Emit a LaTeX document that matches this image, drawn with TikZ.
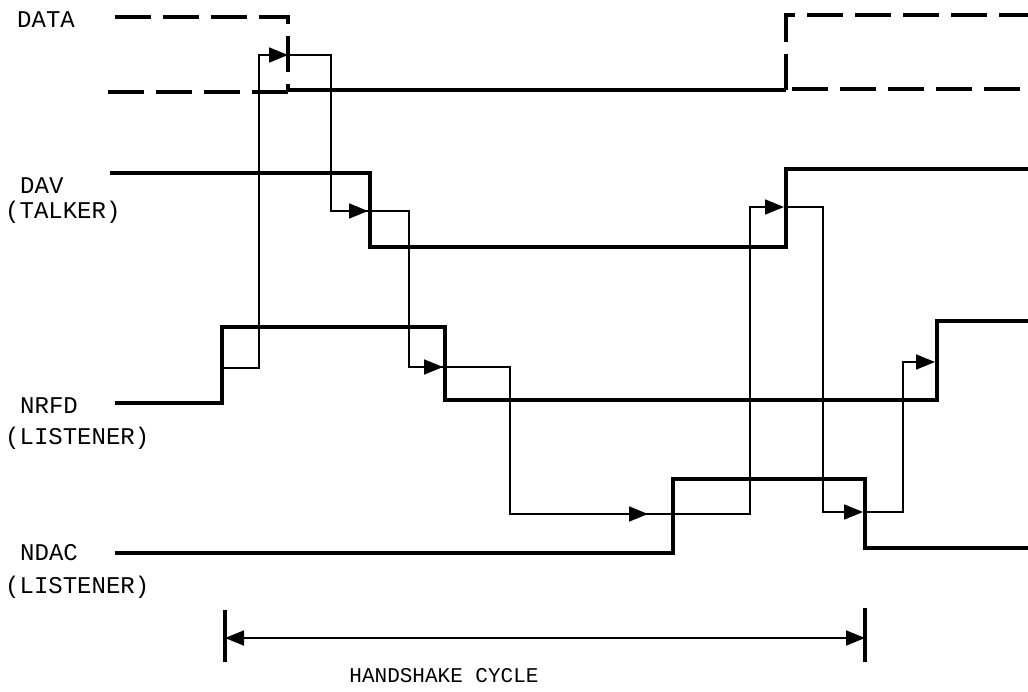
\documentclass[tikz,border=0pt]{standalone}
\usepackage{fontspec}
\setmainfont{Liberation Mono}
\usetikzlibrary{arrows.meta}
\tikzset{
  sig/.style={line width=3.6pt, line join=miter},
  dsig/.style={line width=3.2pt, dash pattern=on 36pt off 12pt},
  cause/.style={line width=1.7pt, -{Triangle[length=19pt,width=15pt]}},
  wire/.style={line width=1.7pt},
  lbl/.style={anchor=west, inner sep=0pt, font=\fontsize{24}{28}\selectfont},
}
\begin{document}
\begin{tikzpicture}[x=1pt,y=-1pt]
   \useasboundingbox (0,0) rectangle (1028,691);
   % Signal names
   \node[lbl] (data) at (17,20) {DATA};
   \node[lbl] (dav) at (20,186) {DAV};
   \node[lbl] (talker) at (5,212) {(TALKER)};
   \node[lbl] (nrfd) at (20,406) {NRFD};
   \node[lbl] (lst1) at (5,438) {(LISTENER)};
   \node[lbl] (ndac) at (20,553) {NDAC};
   \node[lbl] (lst2) at (5,587) {(LISTENER)};

   % DATA lines
   \draw[dsig] (115,17) -- (288,17) -- (288,90);
   \draw[dsig] (108,92) -- (288,92);
   \draw[sig] (288,90) -- (786,90);
   \draw[dsig] (786,90) -- (786,15) -- (1028,15);
   \draw[dsig] (792,89) -- (1028,89);

   % DAV
   \draw[sig] (110,173) -- (370,173) -- (370,247) -- (786,247) -- (786,169) -- (1028,169);
   % NRFD
   \draw[sig] (115,403) -- (222,403) -- (222,327) -- (445,327) -- (445,400) -- (937,400) -- (937,321) -- (1028,321);
   % NDAC
   \draw[sig] (115,553) -- (673,553) -- (673,479) -- (865,479) -- (865,548) -- (1028,548);

   % Handshake sequence
   \draw[cause] (222,368) -- (259,368) -- (259,55) -- (288,55);
   \draw[cause] (288,55) -- (331,55) -- (331,211) -- (368,211);
   \draw[wire] (366,211) -- (409,211) -- (409,367) -- (443,367);
   \draw[cause] (409,367) -- (443,367);
   \draw[wire] (443,367) -- (510,367) -- (510,514) -- (648,514);
   \draw[cause] (600,514) -- (648,514);
   \draw[wire] (648,514) -- (673,514);
   \draw[cause] (673,514) -- (750,514) -- (750,207) -- (784,207);
   \draw[cause] (784,207) -- (823,207) -- (823,512) -- (863,512);
   \draw[cause] (863,512) -- (903,512) -- (903,362) -- (935,362);

   % Cycle span
   \draw[sig] (225,610) -- (225,662);
   \draw[sig] (865,608) -- (865,662);
   \draw[wire, {Triangle[length=19pt,width=15pt]}-{Triangle[length=19pt,width=15pt]}] (225,638) -- (865,638);
   \node[font=\fontsize{21}{24}\selectfont, inner sep=0pt] (cycle) at (444,676) {HANDSHAKE CYCLE};
\end{tikzpicture}
\end{document}
